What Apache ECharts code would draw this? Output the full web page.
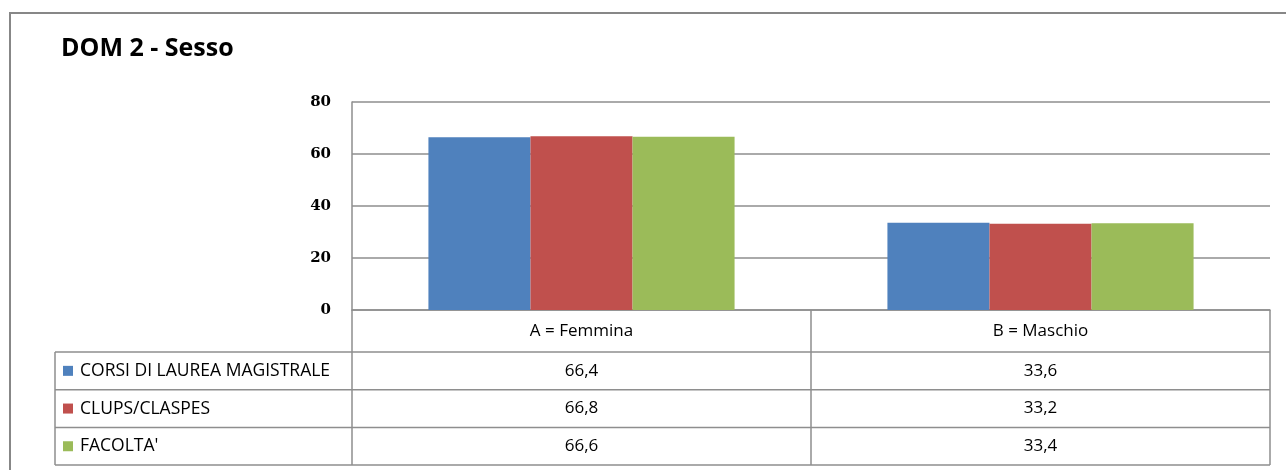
<!DOCTYPE html>
<html>
<head>
<meta charset="utf-8">
<script src="https://cdn.jsdelivr.net/npm/echarts@6/dist/echarts.min.js"></script>
<style>html,body{margin:0;padding:0;background:#fff}#c{width:1286px;height:470px}</style>
</head>
<body>
<div id="c"></div>
<script>
const categories = ['A = Femmina', 'B = Maschio'];
const seriesNames = ['CORSI DI LAUREA MAGISTRALE', 'CLUPS/CLASPES', "FACOLTA'"];
const corsiValues = [66.4, 33.6];
const clupsValues = [66.8, 33.2];
const facoltaValues = [66.6, 33.4];
const tableLabels = [['66,4', '33,6'], ['66,8', '33,2'], ['66,6', '33,4']];
const yTicks = [0, 20, 40, 60, 80];

const colors = ['#4F81BD', '#C0504D', '#9BBB59'];
const lineColor = '#8e8e8e';
const fontTable = '"Open Sans", Lato, sans-serif';

const chart = echarts.init(document.getElementById('c'));
const allValues = [corsiValues, clupsValues, facoltaValues];

chart.setOption({
  animation: false,
  backgroundColor: '#fff',
  title: {
    text: 'DOM 2 - Sesso', left: 61, top: 36, padding: 0,
    textStyle: { fontFamily: fontTable, fontSize: 25, fontWeight: 'bold', color: '#000' }
  },
  grid: { left: 352, right: 16, top: 102, bottom: 160 },
  xAxis: {
    type: 'category', data: categories,
    axisLine: { show: true, lineStyle: { color: lineColor, width: 1.5 } },
    axisTick: { show: false }, axisLabel: { show: false }, splitLine: { show: false }
  },
  yAxis: {
    type: 'value', min: yTicks[0], max: yTicks[yTicks.length - 1], interval: 20,
    axisLine: { show: true, lineStyle: { color: lineColor, width: 1.5 } },
    axisTick: { show: false },
    axisLabel: { margin: 21, color: '#000', fontSize: 15, fontWeight: 'bold', fontFamily: '"DejaVu Serif", "Liberation Serif", serif' },
    splitLine: { show: true, lineStyle: { color: lineColor, width: 1.5 } }
  },
  series: allValues.map((vals, i) => ({
    name: seriesNames[i], type: 'bar', data: vals,
    barGap: '0%', barCategoryGap: '33.3%',
    itemStyle: { color: colors[i] }
  }))
});

function drawTable() {
  const c0 = chart.convertToPixel({ xAxisIndex: 0 }, 0);
  const c1 = chart.convertToPixel({ xAxisIndex: 0 }, 1);
  const w = c1 - c0;
  const xs = [c0 - w / 2, c0 + w / 2, c1 + w / 2];
  const y0 = chart.convertToPixel({ yAxisIndex: 0 }, 0);
  const headerH = 42, rowH = 37.7;
  const labelLeft = xs[0] - 297;
  const yRows = [y0 + headerH, y0 + headerH + rowH, y0 + headerH + 2 * rowH, y0 + headerH + 3 * rowH];
  const g = [];
  const ls = { stroke: lineColor, lineWidth: 1.5 };
  g.push({ type: 'rect', shape: { x: 10, y: 13, width: 1400, height: 600 }, style: { fill: null, stroke: '#878787', lineWidth: 2 }, silent: true });
  yRows.forEach(y => g.push({ type: 'line', shape: { x1: labelLeft, y1: y, x2: xs[2], y2: y }, style: ls }));
  g.push({ type: 'line', shape: { x1: labelLeft, y1: yRows[0], x2: labelLeft, y2: yRows[3] }, style: ls });
  xs.forEach(x => g.push({ type: 'line', shape: { x1: x, y1: y0, x2: x, y2: yRows[3] }, style: ls }));
  categories.forEach((cat, j) => g.push({
    type: 'text', x: (xs[j] + xs[j + 1]) / 2, y: y0 + headerH / 2,
    style: { text: cat, fontFamily: fontTable, fontSize: 17, fill: '#000', align: 'center', verticalAlign: 'middle' }
  }));
  seriesNames.forEach((name, i) => {
    const cy = yRows[i] + rowH / 2;
    g.push({ type: 'rect', shape: { x: labelLeft + 8, y: cy - 5, width: 10, height: 10 }, style: { fill: colors[i] } });
    g.push({ type: 'text', x: labelLeft + 25, y: cy, style: { text: name, fontFamily: fontTable, fontSize: 17.5, fill: '#000', align: 'left', verticalAlign: 'middle' } });
    tableLabels[i].forEach((t, j) => g.push({
      type: 'text', x: (xs[j] + xs[j + 1]) / 2, y: cy,
      style: { text: t, fontFamily: fontTable, fontSize: 17, fill: '#000', align: 'center', verticalAlign: 'middle' }
    }));
  });
  chart.setOption({ graphic: { elements: g } });
}
drawTable();
</script>
</body>
</html>
